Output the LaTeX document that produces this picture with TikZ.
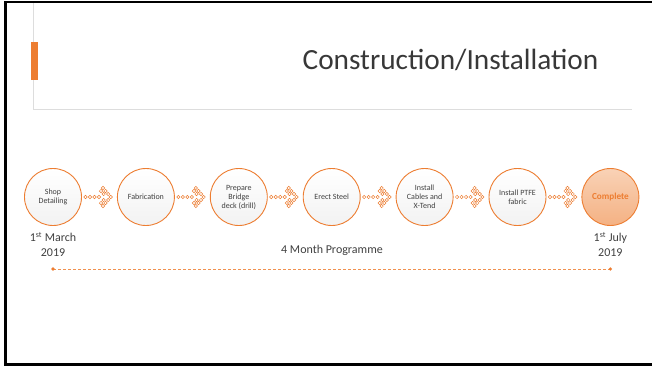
\documentclass[tikz,border=0pt]{standalone}
\usepackage{fontspec}
\setmainfont{Carlito}
\usetikzlibrary{positioning,calc}
\definecolor{accent}{HTML}{ED7D31}
\definecolor{peach}{HTML}{F9D2B6}
\definecolor{peachdark}{HTML}{F4B183}
\definecolor{txtgray}{HTML}{404040}
\definecolor{rulegray}{HTML}{DDDDDD}
\tikzstyle{stage}=[circle,draw=accent,line width=0.9pt,minimum size=57pt,inner sep=0pt,align=center,
  font=\fontsize{8}{9}\selectfont,text=txtgray,top color=white,bottom color=black!5]
\tikzstyle{finish}=[stage,top color=peach,bottom color=peachdark,text=accent,font=\fontsize{9.2}{11}\selectfont\bfseries]
\tikzstyle{date}=[align=center,font=\fontsize{12}{14.5}\selectfont,text=txtgray,inner sep=0pt]
\tikzstyle{pip}=[draw=accent,line width=0.5pt,fill=white]

\begin{document}
\begin{tikzpicture}[x=1pt,y=-1pt]
  \fill[white] (0,0) rectangle (652,367);
  \useasboundingbox (0,0) rectangle (652,367);
  % slide frame and title
  \draw[line width=2.4pt] (652,2) -- (5.3,2) -- (5.3,364.3) -- (652,364.3);
  \draw[rulegray,line width=0.8pt] (33.3,3) -- (33.3,109.3) -- (632,109.3);
  \fill[accent] (31,42) rectangle (37.5,80);
  \node[font=\fontsize{29.3}{32}\selectfont,text=black!78,anchor=base] (title) at (450.5,69) {Construction/Installation};
  % stages
  \node[stage] (shop) at (53,197) {Shop\\Detailing};
  \node[stage,right=35pt of shop] (fab) {Fabrication};
  \node[stage,right=35pt of fab] (deck) {Prepare\\Bridge\\deck (drill)};
  \node[stage,right=35pt of deck] (steel) {Erect Steel};
  \node[stage,right=35pt of steel] (cables) {Install\\Cables and\\X-Tend};
  \node[stage,right=35pt of cables] (ptfe) {Install PTFE\\fabric};
  \node[finish,right=35pt of ptfe] (done) {Complete};
  \foreach \a in {shop,fab,deck,steel,cables,ptfe}{
    \begin{scope}[shift={(\a.east)}]
      \foreach \x in {3.5,8,12.5,17} \draw[pip] (\x,0) circle (1.7pt);
      \foreach \k in {0,1,2,3} \draw[pip] ({21+2.6*\k},{-9+3*\k}) circle (1.7pt);
      \foreach \k in {0,1,2} \draw[pip] ({21+2.6*\k},{9-3*\k}) circle (1.7pt);
      \foreach \k in {1,2} \draw[pip] ({16.5+2.6*\k},{-9+3*\k}) circle (1.7pt);
      \foreach \k in {1,2} \draw[pip] ({16.5+2.6*\k},{9-3*\k}) circle (1.7pt);
    \end{scope}}
  % dates and timeline
  \node[date,below=6pt of shop] (start) {1\textsuperscript{st} March\\2019};
  \node[date,below=6pt of done] (end) {1\textsuperscript{st} July\\2019};
  \node[date,anchor=base] (span) at (332,253) {4 Month Programme};
  \coordinate (t0) at ($(shop)+(0,72)$);
  \coordinate (t1) at ($(done)+(0,72)$);
  \draw[accent!85,line width=0.7pt,dash pattern=on 3pt off 2pt] (t0) -- (t1);
  \fill[accent] (t0) circle (1.8pt) (t1) circle (1.8pt);
\end{tikzpicture}
\end{document}
